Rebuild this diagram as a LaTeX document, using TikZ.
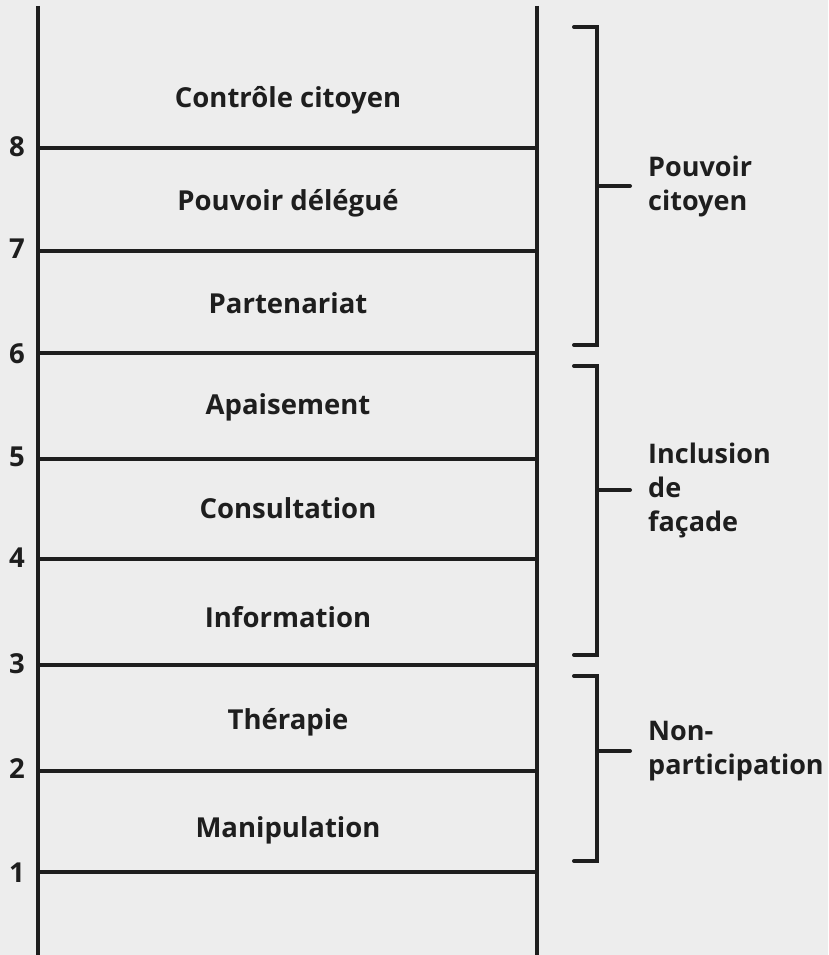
\documentclass[tikz,border=0pt]{standalone}
\usepackage{fontspec}
\setmainfont{Open Sans}
\usepackage{tikz}
\usetikzlibrary{positioning}
\definecolor{cfond}{HTML}{EDEDED}
\definecolor{cencre}{HTML}{1E1E1E}
\tikzset{
  montant/.style={line width=4pt, draw=cencre},
  barreau/.style={line width=3.6pt, draw=cencre},
  accolade/.style={line width=4pt, draw=cencre, line cap=round},
  echelon/.style={font=\bfseries\fontsize{27.5}{34}\selectfont, text=cencre,
    anchor=base, inner sep=0pt},
  niveau/.style={font=\bfseries\fontsize{27.5}{34}\selectfont, text=cencre,
    inner sep=0pt},
  groupe/.style={font=\bfseries\fontsize{27}{34}\selectfont, text=cencre,
    align=left, anchor=west, inner sep=0pt},
}

\begin{document}
\begin{tikzpicture}[x=1pt, y=-1pt]
  \fill[cfond] (0,0) rectangle (828,955);
  \useasboundingbox (0,0) rectangle (828,955);
  % montants de l'echelle
  \coordinate (gh) at (38,6);   \coordinate (gb) at (38,955);
  \coordinate (dh) at (537,6);  \coordinate (db) at (537,955);
  \draw[montant] (gh)--(gb); \draw[montant] (dh)--(db);
  % barreaux
  \coordinate (g8) at (38,148); \coordinate (d8) at (537,148);
  \coordinate (g7) at (38,251); \coordinate (d7) at (537,251);
  \coordinate (g6) at (38,353); \coordinate (d6) at (537,353);
  \coordinate (g5) at (38,459); \coordinate (d5) at (537,459);
  \coordinate (g4) at (38,559); \coordinate (d4) at (537,559);
  \coordinate (g3) at (38,665); \coordinate (d3) at (537,665);
  \coordinate (g2) at (38,771); \coordinate (d2) at (537,771);
  \coordinate (g1) at (38,872); \coordinate (d1) at (537,872);
  \draw[barreau] (g8)--(d8); \draw[barreau] (g7)--(d7); \draw[barreau] (g6)--(d6);
  \draw[barreau] (g5)--(d5); \draw[barreau] (g4)--(d4); \draw[barreau] (g3)--(d3);
  \draw[barreau] (g2)--(d2); \draw[barreau] (g1)--(d1);
  % numeros
  \node[niveau] (n8) at (17,147) {8}; \node[niveau] (n7) at (17,249) {7};
  \node[niveau] (n6) at (17,354) {6}; \node[niveau] (n5) at (17,457) {5};
  \node[niveau] (n4) at (17,558) {4}; \node[niveau] (n3) at (17,664) {3};
  \node[niveau] (n2) at (17,769) {2}; \node[niveau] (n1) at (17,873) {1};
  % echelons
  \node[echelon] (e8) at (288,108) {Contrôle citoyen};
  \node[echelon] (e7) at (288,210) {Pouvoir délégué};
  \node[echelon] (e6) at (288,313) {Partenariat};
  \node[echelon] (e5) at (288,414) {Apaisement};
  \node[echelon] (e4) at (288,518) {Consultation};
  \node[echelon] (e3) at (288,627) {Information};
  \node[echelon] (e2) at (288,729) {Thérapie};
  \node[echelon] (e1) at (288,837) {Manipulation};
  % accolades
  \draw[accolade] (574,27) -| (597,345) -- (574,345);
  \draw[accolade] (574,366) -| (597,655) -- (574,655);
  \draw[accolade] (574,676) -| (597,861) -- (574,861);
  \coordinate (p1) at (630,186); \coordinate (p2) at (630,490); \coordinate (p3) at (630,751);
  \draw[accolade] (597,186)--(p1); \draw[accolade] (597,490)--(p2); \draw[accolade] (597,751)--(p3);
  \node[groupe, right=18pt of p1] (gr1) {Pouvoir\\citoyen};
  \node[groupe, right=18pt of p2] (gr2) {Inclusion\\de\\façade};
  \node[groupe, right=18pt of p3] (gr3) {Non-\\participation};
\end{tikzpicture}
\end{document}
